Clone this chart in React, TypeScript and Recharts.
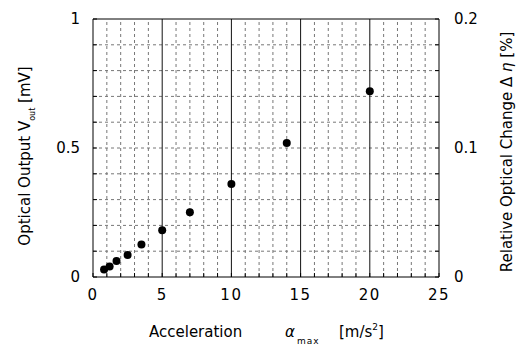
import React from 'react';
import {
  ComposedChart,
  Scatter,
  XAxis,
  YAxis,
  ReferenceLine,
} from 'recharts';

// acceleration [m/s^2] vs optical output [mV]
const accel = [0.8, 1.2, 1.7, 2.5, 3.5, 5, 7, 10, 14, 20];
const vout = [0.029, 0.041, 0.062, 0.085, 0.126, 0.181, 0.251, 0.36, 0.519, 0.72];

const xTicks = [0, 1, 2, 3, 4, 5, 6, 7, 8, 9, 10, 11, 12, 13, 14, 15, 16, 17, 18, 19, 20, 21, 22, 23, 24, 25];
const xLabels = [0, 5, 10, 15, 20, 25];
const yTicks = [0, 0.1, 0.2, 0.3, 0.4, 0.5, 0.6, 0.7, 0.8, 0.9, 1];
const yLabels = [0, 0.5, 1];
const etaTicks = [0, 0.02, 0.04, 0.06, 0.08, 0.1, 0.12, 0.14, 0.16, 0.18, 0.2];
const etaLabels = [0, 0.1, 0.2];

const minorX = xTicks.filter((v) => v > 0 && v < 25 && v % 5 !== 0);
const majorX = [5, 10, 15, 20];
const minorY = yTicks.filter((v) => v > 0 && v < 1);

const data = accel.map((a, i) => ({ a, v: vout[i] }));

const FONT = '"DejaVu Sans", Verdana, sans-serif';

const has = (list: number[], v: number) => list.some((l) => Math.abs(l - v) < 1e-6);

const BottomTick = (props: any) => {
  const { x, y, payload } = props;
  if (!has(xLabels, payload.value)) return <g />;
  return (
    <text x={x} y={y} dy="0.71em" textAnchor="middle" fontSize={15} fill="#000" fontFamily={FONT} letterSpacing={1.5}>
      {payload.value}
    </text>
  );
};

const LeftTick = (props: any) => {
  const { x, y, payload } = props;
  if (!has(yLabels, payload.value)) return <g />;
  return (
    <text x={x} y={y} dy="0.36em" textAnchor="end" fontSize={15} fill="#000" fontFamily={FONT}>
      {payload.value}
    </text>
  );
};

const RightTick = (props: any) => {
  const { x, y, payload } = props;
  if (!has(etaLabels, payload.value)) return <g />;
  return (
    <text x={x} y={y} dy="0.36em" textAnchor="start" fontSize={15} fill="#000" fontFamily={FONT}>
      {payload.value}
    </text>
  );
};

const XTitle = () => (
  <text y={337} fontSize={15} fill="#000" fontFamily={FONT}>
    <tspan x={149}>Acceleration</tspan>
    <tspan x={285} fontStyle="italic">α</tspan>
    <tspan x={297} dy={7} fontSize={9} letterSpacing={1}>max</tspan>
    <tspan x={339} dy={-7}>[m/s</tspan>
    <tspan dy={-7} fontSize={9}>2</tspan>
    <tspan dy={7}>]</tspan>
  </text>
);

const LeftTitle = () => (
  <text transform="translate(30,156) rotate(-90)" textAnchor="middle" fontSize={15} fill="#000" fontFamily={FONT}>
    <tspan>Optical Output V</tspan>
    <tspan dy={5} fontSize={8}>out</tspan>
    <tspan dy={-5}>{'  [mV]'}</tspan>
  </text>
);

const RightTitle = () => (
  <text transform="translate(512,152) rotate(-90)" textAnchor="middle" fontSize={15} fill="#000" fontFamily={FONT}>
    <tspan>Relative Optical Change Δ </tspan>
    <tspan fontStyle="italic">η</tspan>
    <tspan>{'  [%]'}</tspan>
  </text>
);

const Dot = (props: any) => <circle cx={props.cx} cy={props.cy} r={4} fill="#000" />;
const NoDot = () => <g />;

export default function App() {
  return (
    <div style={{ position: 'absolute', left: 0, top: 0, width: 523, height: 347, background: '#fff' }}>
      <ComposedChart
        width={523}
        height={347}
        data={data}
        margin={{ top: 19, right: 24, left: 33, bottom: 40 }}
      >
        <XAxis
          dataKey="a"
          type="number"
          domain={[0, 25]}
          ticks={xTicks}
          interval={0}
          height={30}
          tickSize={-4}
          tickMargin={16}
          tick={BottomTick}
          stroke="#000"
          axisLine={{ stroke: '#000' }}
          tickLine={{ stroke: '#000' }}
          label={{ content: XTitle }}
        />
        <YAxis
          yAxisId="left"
          type="number"
          domain={[0, 1]}
          ticks={yTicks}
          interval={0}
          width={60}
          tickSize={-4}
          tickMargin={17}
          tick={LeftTick}
          axisLine={{ stroke: '#000' }}
          tickLine={{ stroke: '#000' }}
          label={{ content: LeftTitle }}
        />
        <YAxis
          yAxisId="right"
          orientation="right"
          type="number"
          domain={[0, 0.2]}
          allowDataOverflow
          ticks={etaTicks}
          interval={0}
          width={60}
          tickSize={-4}
          tickMargin={19}
          tick={RightTick}
          axisLine={{ stroke: '#000' }}
          tickLine={{ stroke: '#000' }}
          label={{ content: RightTitle }}
        />
        {minorX.map((v) => (
          <ReferenceLine key={`mx${v}`} x={v} yAxisId="left" stroke="#777" strokeDasharray="3 3" />
        ))}
        {minorY.map((v) => (
          <ReferenceLine key={`my${v}`} y={v} yAxisId="left" stroke="#777" strokeDasharray="3 3" />
        ))}
        {majorX.map((v) => (
          <ReferenceLine key={`MX${v}`} x={v} yAxisId="left" stroke="#111" />
        ))}
        <ReferenceLine y={1} yAxisId="left" stroke="#000" />
        <Scatter yAxisId="right" dataKey="v" shape={NoDot} legendType="none" isAnimationActive={false} />
        <Scatter yAxisId="left" dataKey="v" fill="#000" shape={Dot} isAnimationActive={false} />
      </ComposedChart>
    </div>
  );
}
